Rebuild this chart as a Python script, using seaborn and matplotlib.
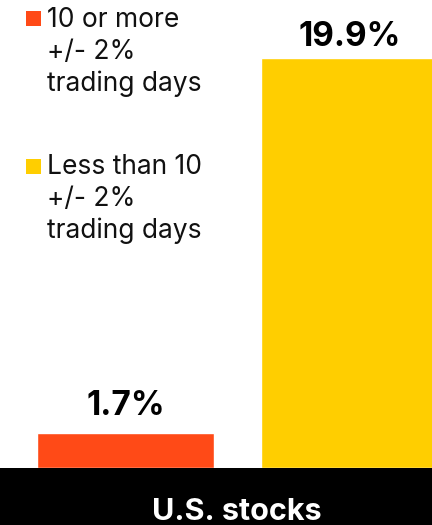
import matplotlib
matplotlib.use("Agg")
import matplotlib.pyplot as plt
import seaborn as sns
import pandas as pd
from matplotlib.patches import Rectangle

# ---- data ----
series = ["10 or more\n+/- 2%\ntrading days", "Less than 10\n+/- 2%\ntrading days"]
values = [1.7, 19.9]
value_labels = ["1.7%", "19.9%"]
colors = ["#FF4A17", "#FFCE00"]
category_label = "U.S. stocks"

sns.set_theme(style="white")
plt.rcParams["font.family"] = ["Inter", "DejaVu Sans"]

W, H = 432, 525
fig = plt.figure(figsize=(W / 100, H / 100), dpi=100)
band_px = 57
ax = fig.add_axes([0, band_px / H, 1, 1 - band_px / H])

df = pd.DataFrame({"series": series, "value": values})
sns.barplot(data=df, x="series", y="value", hue="series", palette=colors,
            width=0.79, legend=False, ax=ax, saturation=1)

ax.set_xlim(-0.560, 1.368)
ax.set_ylim(0, 22.7)
ax.axis("off")

# value labels
offsets_px = [18, 12]
for i, (v, lab) in enumerate(zip(values, value_labels)):
    ax.annotate(lab, xy=(i, v), xytext=(0, offsets_px[i] * 0.72), textcoords="offset points",
                ha="center", va="baseline", fontsize=24, fontweight="bold", color="black")

# bottom black band with category label
fig.patches.append(Rectangle((0, 0), 1, band_px / H, transform=fig.transFigure,
                             facecolor="black", edgecolor="none", zorder=0))
fig.text(237 / W, 1 - 520 / H, category_label, ha="center", va="baseline",
         fontsize=22, fontweight="bold", color="white")

# legend (manual, top-left)
legend_tops = [11, 159]
legend_baselines = [27, 174]
for lab, col, top, base in zip(series, colors, legend_tops, legend_baselines):
    fig.patches.append(Rectangle((26 / W, 1 - (top + 15) / H), 15 / W, 15 / H,
                                 transform=fig.transFigure, facecolor=col, edgecolor="none"))
    for k, line in enumerate(lab.split("\n")):
        fig.text(47 / W, 1 - (base + 32 * k) / H, line, ha="left", va="baseline",
                 fontsize=19, color="#111111")

fig.savefig("out.png", dpi=100)
